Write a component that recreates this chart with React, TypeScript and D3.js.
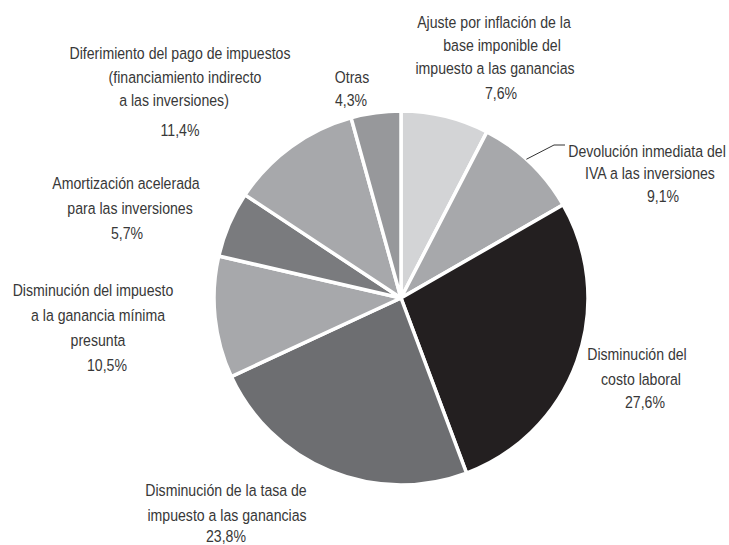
import React from "react";
import * as d3 from "d3";

const categories = [
  "Ajuste por inflación de la base imponible del impuesto a las ganancias",
  "Devolución inmediata del IVA a las inversiones",
  "Disminución del costo laboral",
  "Disminución de la tasa de impuesto a las ganancias",
  "Disminución del impuesto a la ganancia mínima presunta",
  "Amortización acelerada para las inversiones",
  "Diferimiento del pago de impuestos (financiamiento indirecto a las inversiones)",
  "Otras",
];
const values = [7.6, 9.1, 27.6, 23.8, 10.5, 5.7, 11.4, 4.3];
const valueLabels = ["7,6%", "9,1%", "27,6%", "23,8%", "10,5%", "5,7%", "11,4%", "4,3%"];
const labelLines = [
  ["Ajuste por inflación de la", "base imponible del", "impuesto a las ganancias"],
  ["Devolución inmediata del", "IVA a las inversiones"],
  ["Disminución del", "costo laboral"],
  ["Disminución de la tasa de", "impuesto a las ganancias"],
  ["Disminución del impuesto", "a la ganancia mínima", "presunta"],
  ["Amortización acelerada", "para las inversiones"],
  ["Diferimiento del pago de impuestos", "(financiamiento indirecto", "a las inversiones)"],
  ["Otras"],
];

const colors = ["#d3d4d6", "#a7a8ab", "#231f20", "#6d6e71", "#a7a8ab", "#7a7b7e", "#a7a8ab", "#97989b"];

// text layout (x centre and baseline of each line, last entry is the percentage)
const labelX = [
  [494, 502, 495, 501],
  [647, 650, 663],
  [637, 641, 645],
  [226, 227, 226],
  [93, 98, 98, 107],
  [126, 130, 127],
  [180, 185, 174, 180],
  [352, 351],
];
const labelY = [
  [28, 51, 74, 99],
  [157, 179, 202],
  [360, 385, 408],
  [496, 521, 542],
  [296, 321, 346, 371],
  [189, 214, 239],
  [59, 83, 106, 136],
  [83, 106],
];

const W = 729;
const H = 545;
const cx = 401;
const cy = 298;
const R = 187;
const SX = 0.83;

export default function App() {
  const pie = d3.pie<number>().sort(null).value((d) => d);
  const arcs = pie(values);
  const arc = d3.arc<d3.PieArcDatum<number>>().innerRadius(0).outerRadius(R);

  // leader for IVA slice
  const ivaArc = arcs[1];
  const leaderAngle = ivaArc.startAngle + (ivaArc.endAngle - ivaArc.startAngle) * 0.45;
  const p0: [number, number] = [cx + R * Math.sin(leaderAngle), cy - R * Math.cos(leaderAngle)];
  const leader = d3.line()([p0, [554, 145], [565, 145]]);

  return (
    <svg
      width={W}
      height={H}
      style={{ position: "absolute", left: 0, top: 0, background: "#fff" }}
      fontFamily="'Liberation Sans', Arial, sans-serif"
    >
      <g transform={`translate(${cx},${cy})`}>
        {arcs.map((a, i) => (
          <path
            key={categories[i]}
            d={arc(a) || ""}
            fill={colors[i]}
            stroke="#fff"
            strokeWidth={3.5}
            strokeLinejoin="round"
          />
        ))}
      </g>
      <path d={leader || ""} fill="none" stroke="#333" strokeWidth={1} />
      {labelLines.map((lines, i) => {
        const all = [...lines, valueLabels[i]];
        return (
          <g key={i}>
            {all.map((t, j) => (
              <text
                key={j}
                transform={`translate(${labelX[i][j]},${labelY[i][j]}) scale(${SX},1)`}
                fontSize={17}
                fill="#383838"
                textAnchor="middle"
              >
                {t}
              </text>
            ))}
          </g>
        );
      })}
    </svg>
  );
}
